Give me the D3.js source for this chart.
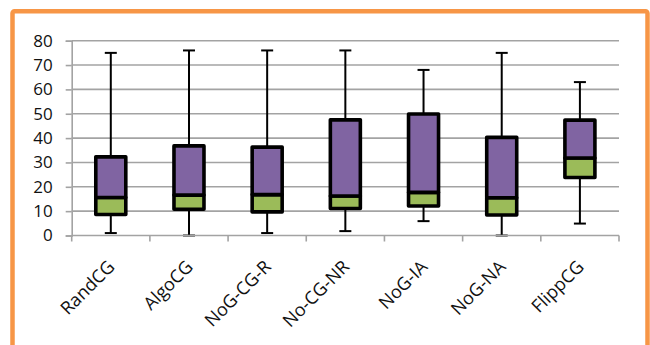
<!DOCTYPE html>
<html>
<head>
<meta charset="utf-8">
<script src="https://cdn.jsdelivr.net/npm/d3@7"></script>
<style>
  html, body { margin: 0; padding: 0; background: #fff; }
  svg { display: block; }
  text { font-family: "Open Sans", "Liberation Sans", sans-serif; fill: #111; }
</style>
</head>
<body>
<svg id="chart" width="650" height="345"></svg>
<script>
// Box-plot statistics per method
const categories = ["RandCG", "AlgoCG", "NoG-CG-R", "No-CG-NR", "NoG-IA", "NoG-NA", "FlippCG"];
const minVals    = [1,    0,    1,    1.8,  5.9,  0,    4.9];
const q1Vals     = [8.6,  10.8, 9.7,  11.1, 12.1, 8.4,  23.8];
const medianVals = [15.6, 16.6, 16.8, 16.2, 17.7, 15.5, 31.8];
const q3Vals     = [32.3, 36.8, 36.3, 47.5, 49.9, 40.3, 47.4];
const maxVals    = [75,   76,   76,   76,   68,   75,   63];
const yTicks     = [0, 10, 20, 30, 40, 50, 60, 70, 80];

const rows = categories.map((c, i) => ({
  name: c, min: minVals[i], q1: q1Vals[i], med: medianVals[i], q3: q3Vals[i], max: maxVals[i]
}));

const svg = d3.select("#chart");
const plot = { left: 71.7, right: 619, top: 40.7, bottom: 235.5 };

const x = d3.scaleBand().domain(categories).range([plot.left, plot.right]).padding(0);
const y = d3.scaleLinear().domain([0, 80]).range([plot.bottom, plot.top]);

const gridColor = "#a3a3a3";
const boxW = 30, capW = 12;

// Chart frame
svg.append("rect")
  .attr("x", 12.5).attr("y", 11.2).attr("width", 635).attr("height", 345)
  .attr("rx", 2)
  .attr("fill", "none").attr("stroke", "#F79646").attr("stroke-width", 4.5);

// Horizontal gridlines
svg.append("g")
  .selectAll("line").data(yTicks.filter(t => t > 0)).join("line")
  .attr("x1", plot.left).attr("x2", plot.right)
  .attr("y1", d => y(d)).attr("y2", d => y(d))
  .attr("stroke", gridColor).attr("stroke-width", 1.6);

// Y axis
const yAxis = svg.append("g")
  .attr("transform", `translate(${plot.left},0)`)
  .call(d3.axisLeft(y).tickValues(yTicks).tickSize(6).tickPadding(13));
yAxis.select(".domain").attr("stroke", gridColor).attr("stroke-width", 1.6);
yAxis.selectAll(".tick line").attr("stroke", gridColor).attr("stroke-width", 1.6);
yAxis.selectAll(".tick text")
  .attr("font-size", 17).attr("fill", "#111")
  .attr("font-family", "'Open Sans', 'Liberation Sans', sans-serif");

// Whiskers
const wh = svg.append("g");
rows.forEach(d => {
  const cx = x(d.name) + x.bandwidth() / 2;
  wh.append("line").attr("x1", cx).attr("x2", cx).attr("y1", y(d.max)).attr("y2", y(d.q3))
    .attr("stroke", "#000").attr("stroke-width", 2);
  wh.append("line").attr("x1", cx).attr("x2", cx).attr("y1", y(d.q1)).attr("y2", y(d.min))
    .attr("stroke", "#000").attr("stroke-width", 2);
  wh.append("line").attr("x1", cx - capW / 2).attr("x2", cx + capW / 2)
    .attr("y1", y(d.max)).attr("y2", y(d.max)).attr("stroke", "#000").attr("stroke-width", 2);
  wh.append("line").attr("x1", cx - capW / 2).attr("x2", cx + capW / 2)
    .attr("y1", y(d.min)).attr("y2", y(d.min)).attr("stroke", "#000").attr("stroke-width", 2);
});

// Boxes: lower part (Q1–median) green, upper part (median–Q3) purple
const boxes = svg.append("g");
boxes.selectAll("rect.low").data(rows).join("rect")
  .attr("class", "low")
  .attr("x", d => x(d.name) + x.bandwidth() / 2 - boxW / 2)
  .attr("width", boxW)
  .attr("y", d => y(d.med)).attr("height", d => y(d.q1) - y(d.med))
  .attr("fill", "#9BBB59").attr("stroke", "#000").attr("stroke-width", 3.6)
  .attr("stroke-linejoin", "round");
boxes.selectAll("rect.high").data(rows).join("rect")
  .attr("class", "high")
  .attr("x", d => x(d.name) + x.bandwidth() / 2 - boxW / 2)
  .attr("width", boxW)
  .attr("y", d => y(d.q3)).attr("height", d => y(d.med) - y(d.q3))
  .attr("fill", "#8064A2").attr("stroke", "#000").attr("stroke-width", 3.6)
  .attr("stroke-linejoin", "round");

// X axis with boundary ticks
const xg = svg.append("g");
xg.append("line").attr("x1", plot.left).attr("x2", plot.right)
  .attr("y1", plot.bottom).attr("y2", plot.bottom)
  .attr("stroke", gridColor).attr("stroke-width", 1.6);
const bounds = categories.map(c => x(c)).concat([plot.right]);
xg.selectAll("line.tk").data(bounds).join("line")
  .attr("class", "tk")
  .attr("x1", d => d).attr("x2", d => d).attr("y1", plot.bottom).attr("y2", plot.bottom + 6)
  .attr("stroke", gridColor).attr("stroke-width", 1.6);

// Rotated category labels
xg.selectAll("text").data(categories).join("text")
  .attr("transform", d => `translate(${x(d) + x.bandwidth() / 2 + 5},268) rotate(-45)`)
  .attr("text-anchor", "end")
  .attr("font-size", 18)
  .text(d => d);
</script>
</body>
</html>
